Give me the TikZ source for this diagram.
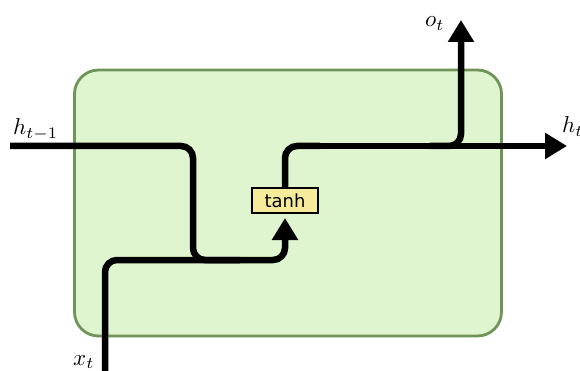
\documentclass[tikz,border=0pt]{standalone}
\usepackage{fontspec}
\newfontfamily\labelsans{DejaVu Sans}
\usetikzlibrary{arrows.meta}
\definecolor{cellfill}{HTML}{DFF5D0}
\definecolor{celldraw}{HTML}{6E9457}
\definecolor{gatefill}{HTML}{F5EB9A}
\tikzset{
  flow/.style={line width=6.5pt, rounded corners=12pt},
  head/.style={-{Triangle[length=22pt,width=25pt]}},
  lbl/.style={inner sep=0pt, anchor=base west},
}
\newcommand{\biglbl}[1]{\scalebox{2.3}{$#1$}}
\begin{document}
\begin{tikzpicture}[x=1pt,y=-1pt]
\useasboundingbox (0,0) rectangle (580,371);
\node[draw=celldraw, fill=cellfill, line width=2.8pt, rounded corners=24pt,
  minimum width=427pt, minimum height=266pt, inner sep=0pt] (cell) at (288,203) {};
\node[draw=black, fill=gatefill, line width=1.5pt, minimum width=66pt, minimum height=25pt,
  inner sep=0pt, font=\labelsans\fontsize{18}{18}\selectfont] (tanh) at (285,200.5) {tanh};
\coordinate (hin) at (10,146);
\coordinate (xin) at (105,371);
\coordinate (hout) at (567,146);
\coordinate (oout) at (461,20);
\coordinate (join) at (461,146);
\coordinate (tanhin) at (285,218);
\draw[flow] (hin) -- (193,146) -- (193,260) -- (240,260);
\draw[flow, head] (xin) -- (105,260) -- (285,260) -- (tanhin);
\draw[flow] (tanh.north) -- (285,146) -- (320,146);
\draw[flow, head] (300,146) -- (hout);
\draw[flow, head] (430,146) -- (join) -- (oout);
\node[lbl] at (13,135) {\biglbl{h_{t-1}}};
\node[lbl] at (73,365) {\biglbl{x_t}};
\node[lbl] at (425,27) {\biglbl{o_t}};
\node[lbl] at (562,133) {\biglbl{h_t}};
\end{tikzpicture}
\end{document}
